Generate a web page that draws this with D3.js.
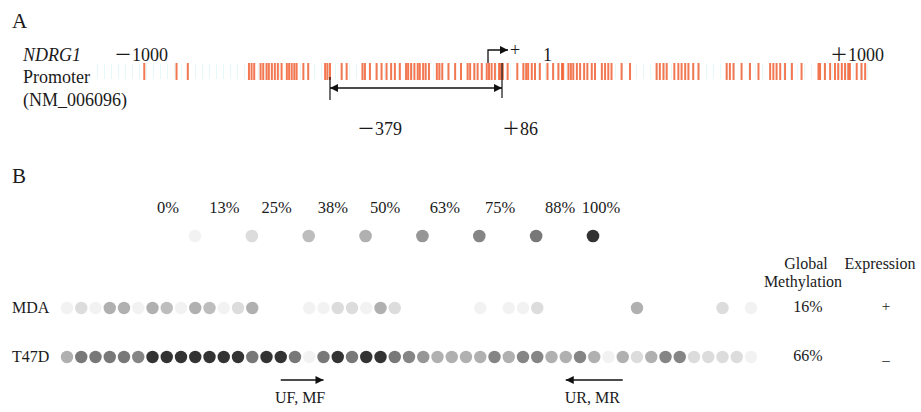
<!DOCTYPE html>
<html>
<head>
<meta charset="utf-8">
<script src="https://cdn.jsdelivr.net/npm/d3@7"></script>
<style>
  body { margin: 0; background: #fff; }
  svg text { font-family: 'Liberation Serif', 'Noto Sans CJK SC', serif; fill: #1a1a1a; }
</style>
</head>
<body>
<svg class="figure"></svg>
<script>
// CpG sites in the NDRG1 promoter, bp relative to TSS
const cpgSites = [
  -874, -788, -758, -595, -588, -581, -564, -557, -548, -542, -534, -526, -518, -508,
  -494, -488, -481, -474, -468, -450, -437, -392, -386, -379, -351, -339,
  -301, -295, -283, -267, -255, -243, -232, -223, -211, -196, -191, -184, -176, -168,
  -163, -155, -149, -141, -122, -116, -109, -94, -78, -64, -48, -42, -32, -24, -14, -2,
  7, 23, 43, 68, 78, 88, 100, 124, 139, 146, 151, 160, 168, 180, 199, 213, 226, 235,
  238, 251, 257, 263, 272, 280, 290, 298, 309, 317, 334, 342, 350, 358, 383, 404,
  470, 478, 487, 495, 514, 524, 532, 541, 549, 561, 574, 644, 652, 661, 681, 702, 723,
  752, 760, 768, 777, 789, 806, 830, 872, 876, 888, 901, 913, 921, 930, 938, 946, 950,
  967, 979, 988
];
const regionStart = -379;
const regionEnd = 86;
const tss = 1;

// methylation levels and legend
const levels = [0, 13, 25, 38, 50, 63, 75, 88, 100];
const levelShades = ['#f2f2f2', '#dcdcdc', '#bdbdbd', '#b0b0b0', '#969696', '#858585', '#787878', '#5a5a5a', '#333333'];
const legendDots = [0, 13, 25, 38, 50, 63, 75, 100];

// per-CpG methylation of the amplicon (null = not read)
const mdaValues = [
  0, 13, 0, 38, 38, 0, 38, 25, 0, 38, 25, 0, 13, 38, null, null, null,
  0, 0, 13, 13, 0, 38, 13, null, null, null, null, null, 0, null, 0, 0, 13,
  null, null, null, null, null, null, 38, null, null, null, null, null, 13, null, 0
];
const t47dValues = [
  38, 75, 75, 75, 75, 63, 100, 100, 100, 100, 100, 100, 100, 75, 100, 100, 75,
  0, 75, 100, 75, 100, 100, 75, 63, 50, 38, 38, 38, 38, 63, 38, 63, 63, 38, 38,
  63, 38, 0, 38, 13, 38, 63, 63, 13, 13, 13, 13, 0
];
const cellLines = ['MDA', 'T47D'];
const globalMethylation = ['16%', '66%'];
const expression = ['+', '_'];

// primers, in CpG index units
const primers = [
  { label: 'UF, MF', from: 15, to: 18 },
  { label: 'UR, MR', from: 39, to: 35 }
];

const app = (function () {
  'use strict';

  function init () {
    const svg = d3.select('.figure')
      .attr('width', 921)
      .attr('height', 412);

    const defs = svg.append('defs');
    defs.append('marker')
      .attr('id', 'head')
      .attr('viewBox', '0 0 10 10')
      .attr('refX', 10)
      .attr('refY', 5)
      .attr('markerUnits', 'userSpaceOnUse')
      .attr('markerWidth', 10)
      .attr('markerHeight', 8)
      .attr('orient', 'auto-start-reverse')
      .append('path')
      .attr('d', 'M0,0L10,5L0,10Z')
      .attr('fill', '#111');

    drawPanelA(svg);
    drawPanelB(svg);
  }

  function drawPanelA (svg) {
    // promoter map is not to scale, so use a piecewise scale
    const x = d3.scaleLinear()
      .domain([-1000, regionStart, tss, regionEnd, 1000])
      .range([97, 330, 488, 502, 870]);

    svg.append('text').attr('x', 12).attr('y', 28)
      .style('font-size', '21px').text('A');

    const lab = svg.append('g').style('font-size', '18px');
    lab.append('text').attr('x', 23).attr('y', 61)
      .style('font-style', 'italic').text('NDRG1');
    lab.append('text').attr('x', 23).attr('y', 83).text('Promoter');
    lab.append('text').attr('x', 23).attr('y', 106).text('(NM_006096)');
    lab.append('text').attr('x', x(-1000) + 17).attr('y', 61).text('－1000');
    lab.append('text').attr('x', x(1000) - 40).attr('y', 61).text('＋1000');
    lab.append('text').attr('x', x(tss) + 55).attr('y', 61).text('1');
    lab.append('text').attr('x', x(regionStart) + 27).attr('y', 135).text('－379');
    lab.append('text').attr('x', x(regionEnd)).attr('y', 135).text('＋86');

    // faint background of the sequence track
    svg.append('line')
      .attr('x1', x(-1000)).attr('x2', x(1000))
      .attr('y1', 71.5).attr('y2', 71.5)
      .attr('stroke', '#e6f8f8')
      .attr('stroke-width', 15)
      .attr('stroke-dasharray', '1,6');

    svg.append('g')
      .selectAll('line')
      .data(cpgSites)
      .enter()
      .append('line')
      .attr('x1', function (d) { return x(d); })
      .attr('x2', function (d) { return x(d); })
      .attr('y1', 63)
      .attr('y2', 80)
      .attr('stroke', '#f05a2c')
      .attr('stroke-opacity', 0.82)
      .attr('stroke-width', 2);

    // TSS arrow
    svg.append('path')
      .attr('d', 'M' + x(tss) + ',63V50H' + (x(tss) + 20))
      .attr('fill', 'none')
      .attr('stroke', '#111')
      .attr('stroke-width', 1.3)
      .attr('marker-end', 'url(#head)');
    svg.append('text').attr('x', x(tss) + 22).attr('y', 56)
      .style('font-size', '18px').text('+');

    // amplified region
    svg.append('line')
      .attr('x1', x(regionStart)).attr('x2', x(regionEnd))
      .attr('y1', 88).attr('y2', 88)
      .attr('stroke', '#111')
      .attr('stroke-width', 1.5)
      .attr('marker-start', 'url(#head)')
      .attr('marker-end', 'url(#head)');
    svg.append('line')
      .attr('x1', x(regionStart)).attr('x2', x(regionStart))
      .attr('y1', 77).attr('y2', 100)
      .attr('stroke', '#111').attr('stroke-width', 1.2);
    svg.append('line')
      .attr('x1', x(regionEnd)).attr('x2', x(regionEnd))
      .attr('y1', 63).attr('y2', 98)
      .attr('stroke', '#111').attr('stroke-width', 1.2);
  }

  function drawPanelB (svg) {
    const shade = d3.scaleOrdinal().domain(levels).range(levelShades);

    svg.append('text').attr('x', 12).attr('y', 183)
      .style('font-size', '21px').text('B');

    // legend
    const labelX = d3.scaleLinear().domain([0, 50, 88, 100]).range([168, 385, 560, 601]);
    svg.append('g')
      .selectAll('text')
      .data(levels)
      .enter()
      .append('text')
      .attr('x', function (d) { return labelX(d); })
      .attr('y', 213)
      .attr('text-anchor', 'middle')
      .style('font-size', '16.5px')
      .text(function (d) { return d + '%'; });

    const legendX = d3.scaleLinear().domain([0, legendDots.length - 1]).range([195, 593]);
    svg.append('g')
      .selectAll('circle')
      .data(legendDots)
      .enter()
      .append('circle')
      .attr('cx', function (d, i) { return legendX(i); })
      .attr('cy', 236)
      .attr('r', 6.3)
      .attr('fill', function (d) { return shade(d); });

    // column headers
    const head = svg.append('g').style('font-size', '16px').attr('text-anchor', 'middle');
    head.append('text').attr('x', 806).attr('y', 269).text('Global');
    head.append('text').attr('x', 803).attr('y', 287).text('Methylation');
    head.append('text').attr('x', 880).attr('y', 269).text('Expression');

    // CpG rows
    const cx = d3.scaleLinear().domain([0, t47dValues.length - 1]).range([67, 751]);
    const rowY = d3.scalePoint().domain(cellLines).range([308, 357]);
    const rows = [mdaValues, t47dValues];

    rows.forEach(function (values, r) {
      const name = cellLines[r];
      const g = svg.append('g');
      g.selectAll('circle')
        .data(values.map(function (v, i) { return { i: i, v: v }; })
          .filter(function (d) { return d.v !== null; }))
        .enter()
        .append('circle')
        .attr('cx', function (d) { return cx(d.i); })
        .attr('cy', rowY(name))
        .attr('r', 6.2)
        .attr('fill', function (d) { return shade(d.v); });

      g.append('text').attr('x', 12).attr('y', rowY(name) + 5)
        .style('font-size', '16px').text(name);
      g.append('text').attr('x', 808).attr('y', rowY(name) + 4)
        .attr('text-anchor', 'middle')
        .style('font-size', '16px').text(globalMethylation[r]);
      g.append('text').attr('x', 886).attr('y', rowY(name) + 3)
        .attr('text-anchor', 'middle')
        .style('font-size', '15px').text(expression[r]);
    });

    // primers
    primers.forEach(function (p) {
      svg.append('line')
        .attr('x1', cx(p.from)).attr('x2', cx(p.to))
        .attr('y1', 380).attr('y2', 380)
        .attr('stroke', '#111')
        .attr('stroke-width', 1.5)
        .attr('marker-end', 'url(#head)');
      svg.append('text')
        .attr('x', (cx(p.from) + cx(p.to)) / 2 - 2)
        .attr('y', 403)
        .attr('text-anchor', 'middle')
        .style('font-size', '16px')
        .text(p.label);
    });
  }

  return {
    init: init
  };
}());

window.addEventListener('load', app.init);
</script>
</body>
</html>
